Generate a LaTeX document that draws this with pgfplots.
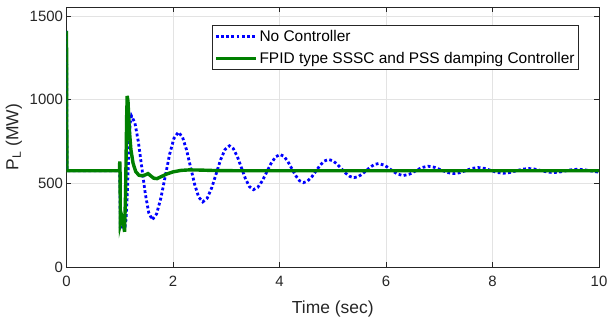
\documentclass[border=0pt]{standalone}
\usepackage{pgfplots}
\pgfplotsset{compat=1.18}
\usepackage{fontspec}
\setmainfont{Liberation Sans}
\usetikzlibrary{calc}
\definecolor{mgreen}{RGB}{0,128,0}
\definecolor{axc}{RGB}{38,38,38}
\begin{document}
\begin{tikzpicture}
\begin{axis}[
  scale only axis,
  width=532.5bp, height=259.5bp,
  xmin=0, xmax=10, ymin=0, ymax=1550,
  xtick={0,2,4,6,8,10}, ytick={0,500,1000,1500},
  tick align=inside,
  major tick length=5bp,
  axis line style={axc, line width=0.6bp},
  tick style={axc, line width=0.6bp},
  grid=major,
  major grid style={gray!22, line width=0.6bp},
  /pgf/number format/assume math mode=true,
  /pgf/number format/1000 sep={},
  ticklabel style={font=\fontsize{15}{18}\selectfont, text=axc},
  xticklabel style={yshift=-6bp},
  xlabel={Time (sec)},
  ylabel={P\textsubscript{L} (MW)},
  label style={font=\fontsize{17.5}{20}\selectfont, text=axc},
  xlabel style={yshift=-7bp},
  ylabel style={yshift=1bp},
  legend style={at={(0.273,0.9326)}, anchor=north west, draw=axc, line width=0.6bp,
    font=\fontsize{15.5}{18}\selectfont, inner xsep=2bp, inner ysep=3bp, row sep=5bp},
  legend cell align=left,
  legend image code/.code={\draw[#1] plot coordinates {(0bp,0bp) (40bp,0bp)};},
]
\addplot[blue, line width=2.8bp, dash pattern=on 2.8bp off 2.4bp] coordinates {
(0,1410) (0.008,575) (0.995,575) (1.0,610) (1.01,240) (1.05,238) (1.09,235) (1.10,240)
(1.12,290) (1.14,420) (1.16,600) (1.18,770) (1.20,870) (1.22,902)
(1.285,860.5) (1.35,747) (1.415,592) (1.48,437) (1.545,323.5) (1.61,282)
(1.692,317) (1.773,413) (1.855,543.5) (1.937,674) (2.018,769) (2.10,805)
(2.177,777) (2.253,701) (2.33,597) (2.407,493) (2.483,417) (2.56,389)
(2.643,411) (2.727,473) (2.81,556.5) (2.893,640) (2.977,702) (3.06,724)
(3.135,706) (3.21,658.5) (3.285,593) (3.36,527.5) (3.435,480) (3.51,462)
(3.593,476) (3.677,514.5) (3.76,567) (3.843,619.5) (3.927,658) (4.01,672)
(4.083,661) (4.157,630) (4.23,588) (4.303,546) (4.377,515) (4.45,504)
(4.528,513) (4.607,538.5) (4.685,573) (4.763,607.5) (4.842,633) (4.92,642)
(5.0,635) (5.08,615) (5.16,588) (5.24,561) (5.32,541) (5.40,534)
(5.477,539.6) (5.553,555) (5.63,576) (5.707,597) (5.783,612.4) (5.86,618)
(5.975,607.5) (6.09,582) (6.205,556.5) (6.32,546)
(6.4375,554) (6.555,574) (6.6725,594) (6.79,602)
(6.91,595.6) (7.03,580) (7.15,564.4) (7.27,558)
(7.385,563) (7.50,576) (7.615,589) (7.73,594)
(7.8475,589) (7.965,577) (8.0825,565) (8.20,560)
(8.32,564) (8.44,574) (8.56,584) (8.68,588)
(8.795,584.5) (8.91,576) (9.025,567.5) (9.14,564)
(9.255,567) (9.37,574) (9.485,581) (9.60,584)
(9.715,581.4) (9.83,575) (9.945,568.6) (10.0,567)
};
\addlegendentry{No Controller}
\addplot[mgreen, line width=3.4bp] coordinates {
(0,1410) (0.008,575) (0.995,575) (1.0,630) (1.005,600) (1.012,260) (1.04,300) (1.07,260)
(1.09,210) (1.11,450) (1.13,900) (1.14,1022) (1.155,990) (1.18,820) (1.21,700) (1.25,620)
(1.30,570) (1.36,548) (1.42,545) (1.48,550) (1.53,558) (1.58,545) (1.64,530) (1.70,528)
(1.78,540) (1.88,555) (2.0,568) (2.15,577) (2.3,580) (2.5,579) (2.8,576) (3.2,575) (4,575) (10,575)
};
\addlegendentry{FPID type SSSC and PSS damping Controller}
\end{axis}
\pgfresetboundingbox
\path ($(current axis.south west)+(-66.5bp,-58bp)$) rectangle ($(current axis.north east)+(10bp,7.5bp)$);
\end{tikzpicture}
\end{document}
